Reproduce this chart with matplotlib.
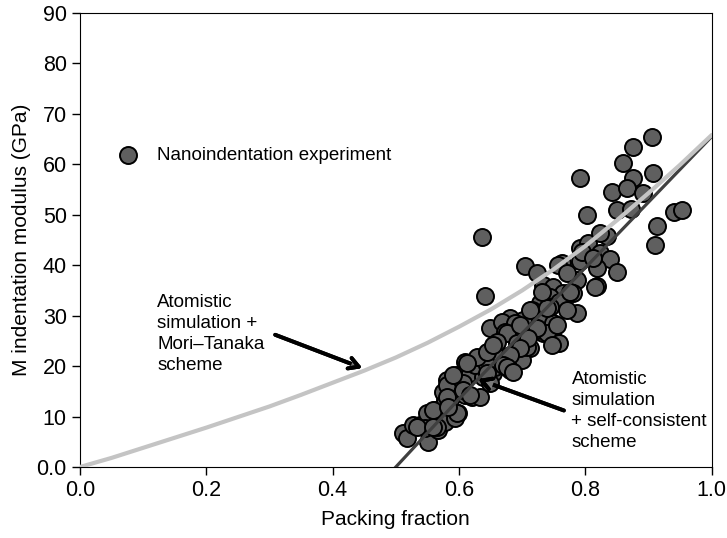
import numpy as np
import matplotlib
matplotlib.use("Agg")
import matplotlib.pyplot as plt
from matplotlib import patheffects as pe
from matplotlib.patches import FancyArrowPatch

plt.rcParams['font.family'] = ['Liberation Sans', 'DejaVu Sans']

# nanoindentation measurements (packing fraction, modulus in GPa)
exp_phi = [0.905, 0.875, 0.859, 0.907, 0.875, 0.791, 0.842, 0.866, 0.891, 0.802,
           0.850, 0.873, 0.941, 0.953, 0.913, 0.910, 0.636, 0.641, 0.704, 0.791,
           0.804, 0.834, 0.823, 0.839, 0.763, 0.791, 0.723, 0.756, 0.818, 0.850,
           0.794, 0.818, 0.786, 0.771, 0.733, 0.748, 0.764, 0.780, 0.744, 0.728,
           0.715, 0.759, 0.786, 0.701, 0.680, 0.728, 0.748, 0.771, 0.649, 0.668,
           0.688, 0.672, 0.733, 0.748, 0.712, 0.696, 0.685, 0.699, 0.680, 0.665,
           0.646, 0.657, 0.625, 0.609, 0.597, 0.617, 0.581, 0.653, 0.638, 0.511,
           0.517, 0.527, 0.538, 0.549, 0.551, 0.546, 0.566, 0.578, 0.562, 0.578,
           0.574, 0.581, 0.598, 0.593, 0.609, 0.620, 0.633, 0.625, 0.657, 0.676,
           0.696, 0.712, 0.723, 0.739, 0.759, 0.744, 0.707, 0.691, 0.676, 0.660,
           0.644, 0.628, 0.612, 0.585, 0.559, 0.565, 0.597, 0.649, 0.606, 0.823,
           0.812, 0.739, 0.731, 0.775, 0.755, 0.747, 0.723, 0.709, 0.660, 0.644,
           0.696, 0.680, 0.669, 0.815, 0.533, 0.559, 0.581, 0.582, 0.590, 0.606,
           0.617, 0.644, 0.676, 0.685, 0.653]
exp_mod = [65.4, 63.4, 60.3, 58.3, 57.3, 57.3, 54.5, 55.3, 54.3, 50.0,
           50.9, 51.1, 50.5, 50.9, 47.8, 44.0, 45.6, 33.9, 39.8, 43.4,
           44.4, 45.8, 42.4, 41.2, 40.4, 40.8, 38.5, 40.0, 39.4, 38.7,
           42.6, 35.9, 37.1, 38.5, 36.1, 35.7, 34.5, 34.5, 33.7, 32.5,
           31.1, 32.7, 30.5, 29.1, 29.5, 29.7, 28.5, 31.1, 27.6, 28.7,
           28.5, 26.8, 26.6, 25.6, 23.6, 23.8, 21.2, 21.2, 19.2, 21.2,
           22.8, 23.8, 21.2, 20.8, 18.2, 18.6, 17.2, 18.6, 17.8, 6.7,
           5.7, 8.3, 8.3, 10.7, 5.0, 7.7, 7.3, 8.9, 11.3, 13.3,
           14.9, 16.3, 10.7, 9.7, 14.3, 13.9, 13.9, 20.2, 19.8, 26.6,
           28.1, 31.1, 27.2, 26.6, 24.6, 31.7, 23.8, 24.6, 20.2, 21.8,
           20.2, 21.8, 20.6, 13.3, 11.3, 7.9, 10.7, 16.7, 16.7, 46.4,
           41.4, 31.5, 34.7, 34.7, 28.1, 24.2, 27.6, 25.6, 24.8, 22.8,
           23.6, 22.2, 20.2, 35.7, 7.9, 7.9, 13.9, 11.9, 18.2, 15.3,
           14.3, 18.6, 19.8, 18.8, 24.2]

# atomistic simulation + Mori-Tanaka scheme
mt_phi = [0.0, 0.05, 0.1, 0.15, 0.2, 0.25, 0.3, 0.35, 0.4, 0.45, 0.5,
          0.55, 0.6, 0.65, 0.7, 0.75, 0.8, 0.85, 0.9, 0.95, 1.0]
mt_mod = [0.0, 1.8, 3.8, 5.8, 7.8, 9.9, 12.0, 14.3, 16.7, 19.1, 21.7,
          24.6, 27.8, 31.2, 35.0, 39.2, 43.8, 48.9, 54.3, 59.9, 65.8]

# atomistic simulation + self-consistent scheme
sc_phi = [0.5, 0.6, 0.7, 0.8, 0.9, 1.0]
sc_mod = [0.0, 13.5, 26.5, 39.5, 52.5, 65.5]

fig = plt.figure(figsize=(7.27, 5.38), dpi=100)
ax = fig.add_axes([0.110, 0.132, 0.869, 0.844])

ax.scatter(exp_phi, exp_mod, s=150, c='#5f5f5f', edgecolors='black',
           linewidths=1.4, zorder=2, label='Nanoindentation experiment')
ax.plot(sc_phi, sc_mod, color='#404040', lw=2.3, zorder=3)
ax.plot(mt_phi, mt_mod, color='#c4c4c4', lw=3.0, zorder=4,
        solid_capstyle='round')

ax.set_xlim(0, 1.0)
ax.set_ylim(0, 90)
ax.set_xticks(np.arange(0, 1.01, 0.2))
ax.set_xticklabels(['0.0', '0.2', '0.4', '0.6', '0.8', '1.0'])
ax.set_yticks(np.arange(0, 91, 10))
ax.set_yticklabels(['0.0'] + [str(v) for v in range(10, 91, 10)])
ax.tick_params(direction='out', length=6, width=1, labelsize=15.5)
ax.set_xlabel('Packing fraction', fontsize=15, labelpad=6)
ax.set_ylabel('M indentation modulus (GPa)', fontsize=15, labelpad=4)

leg = ax.legend(loc='center left', bbox_to_anchor=(0.035, 0.687),
                frameon=False, fontsize=13.5, handletextpad=0.55,
                scatterpoints=1, borderaxespad=0)

shadow = [pe.withSimplePatchShadow(offset=(1.2, -1.2), shadow_rgbFace='#888888', alpha=0.9),
          pe.Normal()]

ax.text(0.122, 26.3, 'Atomistic\nsimulation +\nMori\u2013Tanaka\nscheme',
        fontsize=13.5, ha='left', va='center', linespacing=1.3)
arr1 = FancyArrowPatch((0.309, 26.2), (0.447, 19.6),
                       arrowstyle='->,head_length=7,head_width=4',
                       color='black', lw=2.8, mutation_scale=1, zorder=5,
                       shrinkA=0, shrinkB=0)
arr1.set_path_effects(shadow)
ax.add_patch(arr1)

ax.text(0.778, 11.1, 'Atomistic\nsimulation\n+ self-consistent\nscheme',
        fontsize=13.5, ha='left', va='center', linespacing=1.3)
arr2 = FancyArrowPatch((0.766, 11.2), (0.630, 17.4),
                       arrowstyle='->,head_length=7,head_width=4',
                       color='black', lw=2.8, mutation_scale=1, zorder=5,
                       shrinkA=0, shrinkB=0)
arr2.set_path_effects(shadow)
ax.add_patch(arr2)

fig.savefig('out.png', dpi=100)
